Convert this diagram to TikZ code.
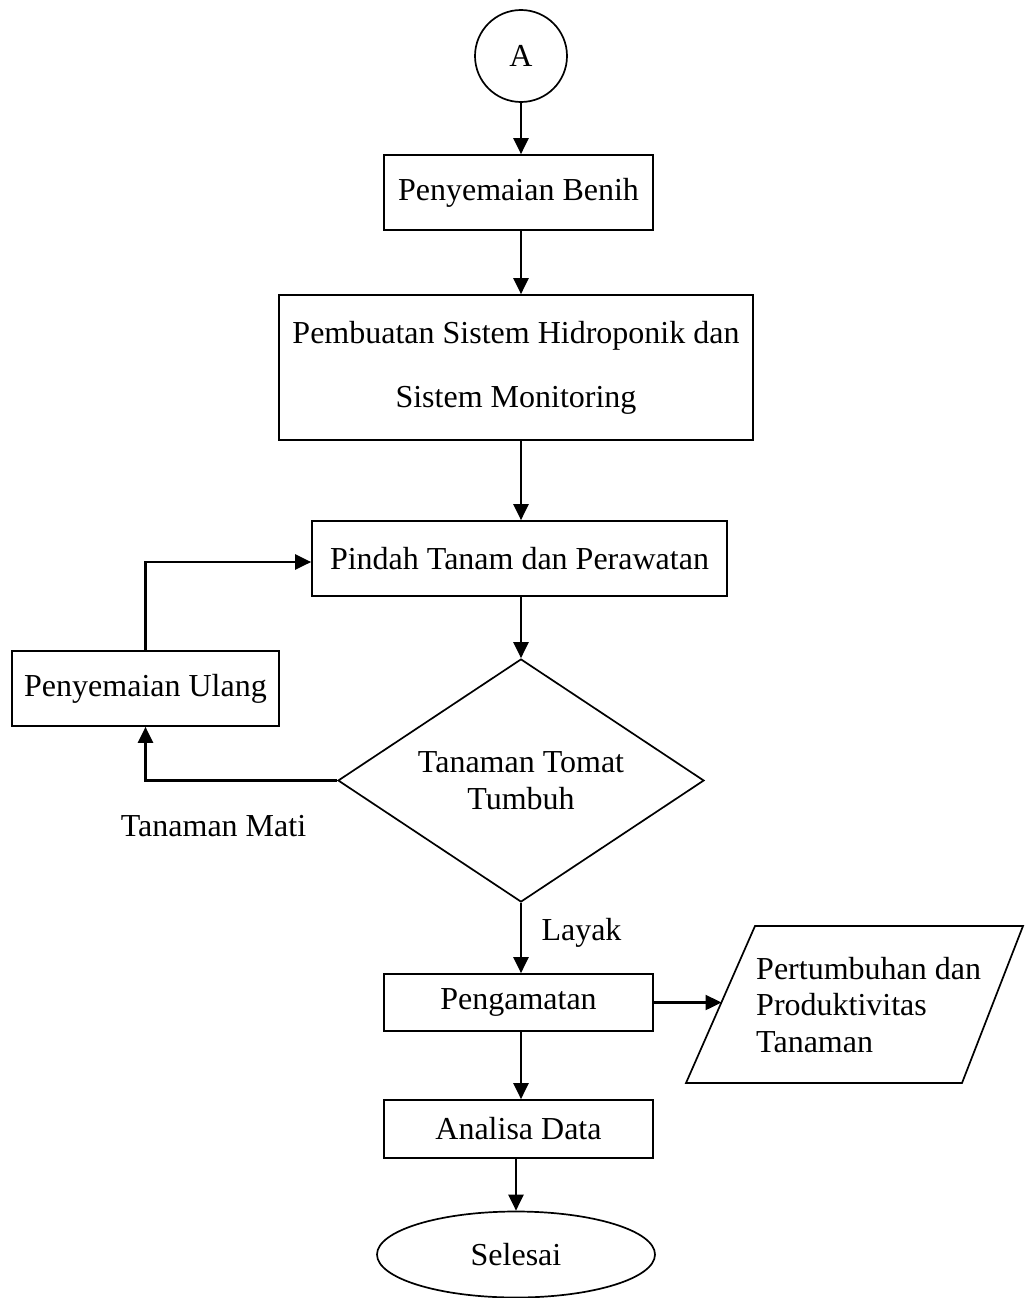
\documentclass[tikz,border=0pt]{standalone}
\usepackage{fontspec}
\setmainfont{Liberation Serif}
\usetikzlibrary{arrows.meta,shapes.geometric}

\tikzset{
  txt/.style={font=\fontsize{32}{36.5}\selectfont},
  procbox/.style={txt, draw, line width=1.7pt, rectangle, inner sep=0pt, align=center},
  decbox/.style={txt, draw, line width=1.7pt, diamond, aspect=1.5, inner sep=0pt, align=center},
  termbox/.style={txt, draw, line width=1.7pt, ellipse, inner sep=0pt},
  connbox/.style={txt, draw, line width=1.7pt, circle, inner sep=0pt},
  arr/.style={line width=2.4pt, -{Triangle[length=16pt,width=15pt]}},
  iobox/.style={line width=1.7pt, line join=miter}
}

\begin{document}
\begin{tikzpicture}[x=1pt,y=-1pt]
\useasboundingbox (0,0) rectangle (1025,1298);

% flow nodes
\node[connbox, minimum size=92pt] (A) at (521,56) {A};
\node[procbox, minimum width=269pt, minimum height=75pt] (benih) at (518.5,192.5) {Penyemaian Benih};
\node[procbox, minimum width=474pt, minimum height=145pt,
      font=\fontsize{32}{64}\selectfont] (buat) at (516,367.5)
      {Pembuatan Sistem Hidroponik dan\\Sistem Monitoring};
\node[procbox, minimum width=415pt, minimum height=75pt] (pindah) at (519.5,558.5) {Pindah Tanam dan Perawatan};
\node[decbox, minimum width=366pt, minimum height=243pt] (cek) at (521,780.5) {Tanaman Tomat\\Tumbuh};
\node[procbox, minimum width=267pt, minimum height=75pt] (ulang) at (145.5,688.5) {Penyemaian Ulang};
\node[procbox, minimum width=269pt, minimum height=57pt] (amat) at (518.5,1002.5) {Pengamatan};
\node[procbox, minimum width=269pt, minimum height=58pt] (data) at (518.5,1129) {Analisa Data};
\node[termbox, minimum width=278pt, minimum height=86pt] (selesai) at (516,1254.5) {Selesai};

% output data (parallelogram)
\draw[iobox] (755,926) -- (1023,926) -- (962,1083) -- (686,1083) -- cycle;
\node[txt, align=left, anchor=west, inner sep=0pt] (hasil) at (756,1005)
      {Pertumbuhan dan\\Produktivitas\\Tanaman};
\coordinate (hasilin) at (721.5,1002.5);

% labels
\node[txt, inner sep=0pt] (layak) at (581.5,933) {Layak};
\node[txt, inner sep=0pt] (mati) at (213.5,826) {Tanaman Mati};

% connectors
\draw[arr] (A.south) -- (A.south |- benih.north);
\draw[arr] (benih.south -| A.south) -- (buat.north -| A.south);
\draw[arr] (buat.south -| A.south) -- (pindah.north -| A.south);
\draw[arr] (pindah.south -| cek.north) -- (cek.north);
\draw[arr] (cek.south) -- (amat.north -| cek.south);
\draw[arr] (amat.south -| cek.south) -- (data.north -| cek.south);
\draw[arr] (data.south -| selesai.north) -- (selesai.north);
\draw[arr] (amat.east) -- (hasilin);
\draw[arr] (cek.west) -| (ulang.south);
\draw[arr] (ulang.north) |- ([yshift=-3.5pt]pindah.west);
\end{tikzpicture}
\end{document}
